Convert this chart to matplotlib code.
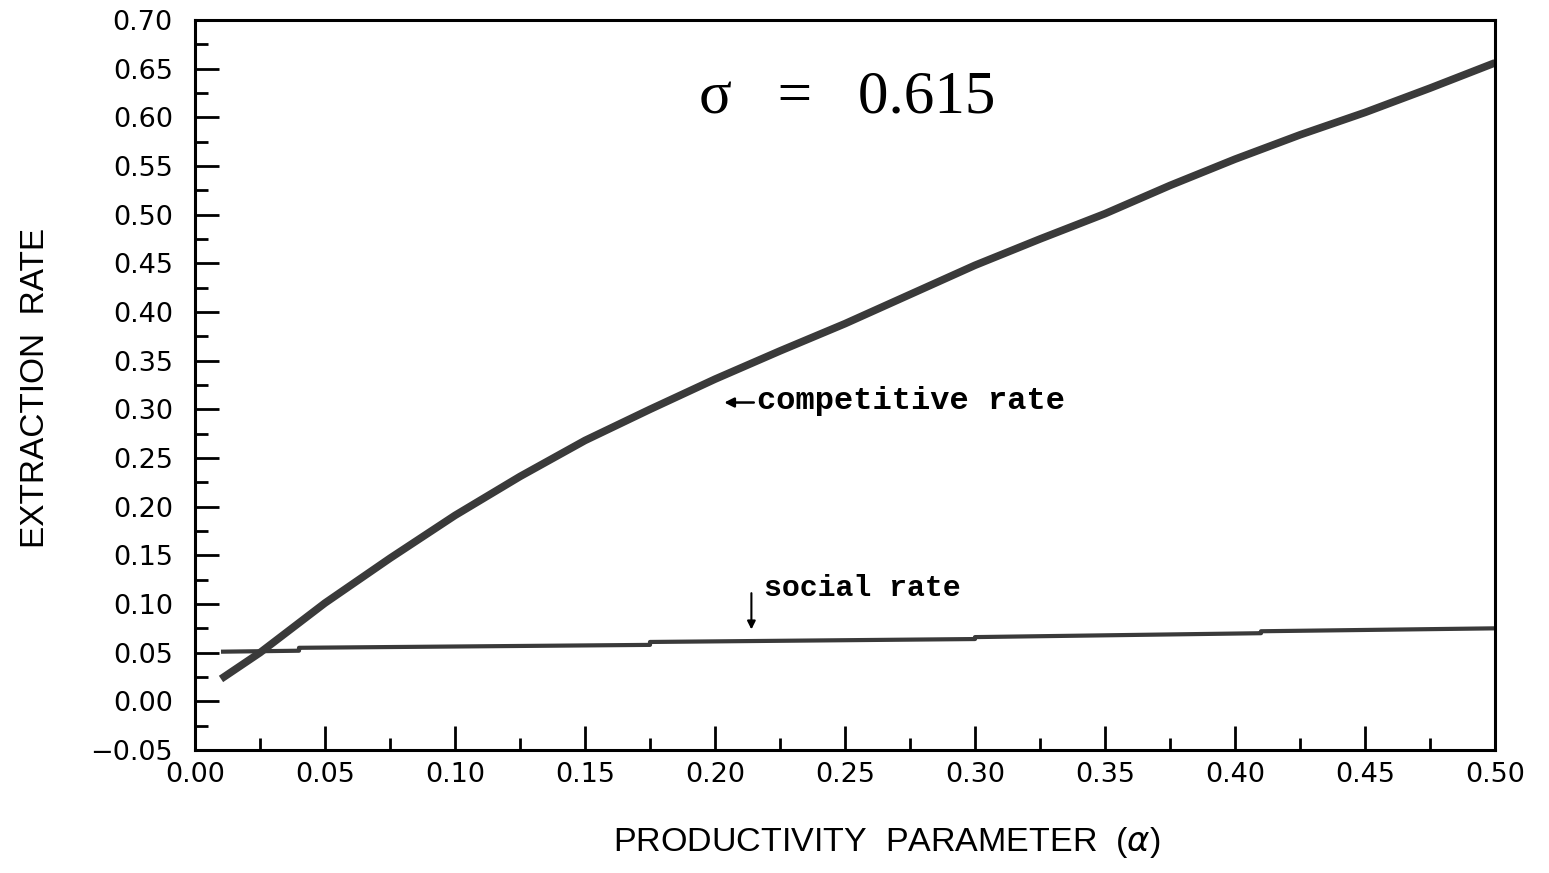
import matplotlib
matplotlib.use("Agg")
import matplotlib.pyplot as plt
from matplotlib.ticker import MultipleLocator, FixedLocator

# Data
comp_alpha = [0.01, 0.025, 0.05, 0.075, 0.10, 0.125, 0.15, 0.175, 0.20, 0.225, 0.25, 0.275,
              0.30, 0.325, 0.35, 0.375, 0.40, 0.425, 0.45, 0.475, 0.50]
comp_rate = [0.023, 0.050, 0.101, 0.147, 0.191, 0.231, 0.268, 0.300, 0.331, 0.360, 0.388,
             0.418, 0.448, 0.475, 0.501, 0.530, 0.557, 0.582, 0.605, 0.630, 0.656]

social_alpha = [0.01, 0.04, 0.04, 0.175, 0.175, 0.30, 0.30, 0.41, 0.41, 0.50]
social_rate = [0.051, 0.052, 0.055, 0.058, 0.061, 0.064, 0.066, 0.070, 0.072, 0.075]

x_ticks = [0.00, 0.05, 0.10, 0.15, 0.20, 0.25, 0.30, 0.35, 0.40, 0.45, 0.50]
y_ticks = [-0.05, 0.00, 0.05, 0.10, 0.15, 0.20, 0.25, 0.30, 0.35, 0.40, 0.45, 0.50, 0.55, 0.60, 0.65, 0.70]

fig = plt.figure(figsize=(15.49, 8.73), dpi=100)
ax = fig.add_axes([195/1549, 1-750/873, (1495-195)/1549, (750-20)/873])

ink = "#3a3a3a"
ax.plot(comp_alpha, comp_rate, color=ink, lw=5.5, solid_capstyle="butt")
ax.plot(social_alpha, social_rate, color=ink, lw=3.0, solid_capstyle="butt")

ax.set_xlim(0.0, 0.5)
ax.set_ylim(-0.05, 0.70)
ax.xaxis.set_major_locator(FixedLocator(x_ticks))
ax.yaxis.set_major_locator(FixedLocator(y_ticks))
ax.xaxis.set_minor_locator(MultipleLocator(0.025))
ax.yaxis.set_minor_locator(MultipleLocator(0.025))
ax.set_xticklabels([f"{v:.2f}" for v in x_ticks])
ax.set_yticklabels([f"{v:.2f}".replace("-", "\u2212") for v in y_ticks])

ax.tick_params(which="both", direction="in", top=False, right=False, width=2, color="black")
ax.tick_params(which="major", length=17)
ax.tick_params(which="minor", length=9)
ax.tick_params(axis="x", labelsize=19.5, pad=9)
ax.tick_params(axis="y", labelsize=19.5, pad=16)
for lab in ax.get_xticklabels() + ax.get_yticklabels():
    lab.set_family("DejaVu Sans")
for s in ax.spines.values():
    s.set_linewidth(2.2)

ax.set_xlabel("PRODUCTIVITY  PARAMETER  ($\\alpha$)", fontsize=24.5, family="Liberation Sans")
ax.set_ylabel("EXTRACTION  RATE", fontsize=24, family="Liberation Sans")
ax.xaxis.set_label_coords(0.532, -0.103)
ax.yaxis.set_label_coords(-0.111, 0.496)

ax.text(0.194, 0.62, "\u03c3   =   0.615", fontsize=44, family="Liberation Serif", va="center", ha="left")

ax.annotate("", xy=(0.2025, 0.307), xytext=(0.216, 0.307),
            arrowprops=dict(arrowstyle="-|>", color="black", lw=1.8, mutation_scale=14))
ax.text(0.216, 0.309, "competitive rate", fontsize=23, family="Liberation Mono", weight="bold",
        va="center", ha="left")

ax.annotate("", xy=(0.214, 0.071), xytext=(0.214, 0.114),
            arrowprops=dict(arrowstyle="-|>", color="black", lw=1.5, mutation_scale=12))
ax.text(0.219, 0.116, "social rate", fontsize=21.5, family="Liberation Mono", weight="bold",
        va="center", ha="left")

fig.savefig("out.png", dpi=100)
